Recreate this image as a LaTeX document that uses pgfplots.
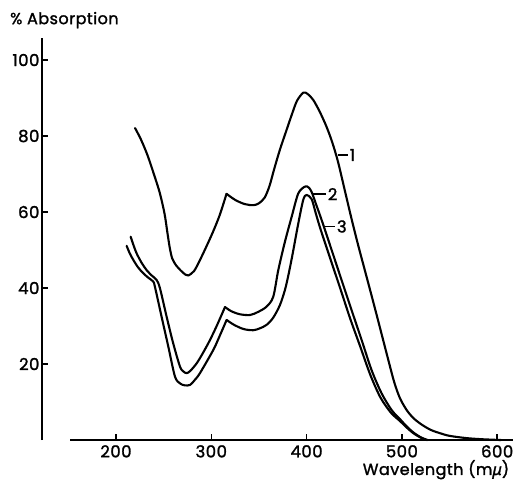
\documentclass[border=0pt]{standalone}
\usepackage{pgfplots}
\pgfplotsset{compat=1.18}
\usepackage{fontspec}
\setmainfont{Poppins}[FakeBold=1.5, LetterSpace=3]
\newfontfamily\mufont{Noto Sans}[FakeBold=1.5]

% Curve 1
\pgfplotstableread{
lam  abs
220   82.1
226   79.2
233   75.0
240   69.8
246   65.0
251   59.5
254   54.5
256.5 50.5
259   47.8
263   46.0
268   44.6
273   43.5
276   43.3
282   44.5
288   47.3
295   51.0
302   54.9
309   59.3
316   64.8
}\curveOneA
\pgfplotstableread{
lam  abs
316   64.8
325   63.2
335   62.1
344   61.8
350   62.3
356   63.8
361   66.8
366   71.3
372   76.4
379   81.6
385   86.0
390   89.3
396.5 91.4
401   91.1
407   89.5
414   86.3
421   82.4
427   78.3
433   73.2
440   65.8
447   58.4
454   51.4
461   44.8
468   38.2
475   31.5
485   21.8
492   15.2
498   11.0
505   7.9
512   5.8
520   4.2
530   2.7
540   1.8
550   1.1
568   0.5
585   0.2
604   0.0
}\curveOneB

% Curve 2
\pgfplotstableread{
lam  abs
215.4 53.5
218.5 51.2
221.7 49.1
227   46.6
232.2 44.7
237.5 43.3
242.7 42.1
246.2 39.9
253.2 32.4
260.1 25.4
267.2 19.3
271   18.0
274.2 17.6
278   18.2
284.7 20.2
291   22.8
298.6 26.3
306   30.2
314.4 35.0
}\curveTwoA
\pgfplotstableread{
lam  abs
314.4 35.0
321   33.9
330   33.1
340.6 32.9
349   33.7
358   35.1
365   37.7
370.3 44.7
377.3 52.2
384.4 58.8
391.3 64.9
398.3 66.7
402   66.5
405.3 65.3
410   62.0
415.8 57.9
426.3 50.0
436.7 42.1
447.2 34.2
457.8 26.3
468.2 18.4
478.7 12.3
489.2 7.9
498   5.5
505   3.6
512   2.0
520   0.7
527   0.0
}\curveTwoB

% Curve 3
\pgfplotstableread{
lam  abs
211.2 51.1
214.5 49.1
218.2 47.4
223   45.5
228.6 43.9
234   42.7
239.1 41.7
240.9 40.3
247.9 32.4
254.9 24.6
261.9 16.7
267.2 14.9
272   14.4
277.7 14.5
283   15.9
288.1 17.6
302.1 23.7
309   27.5
316.1 31.6
}\curveThreeA
\pgfplotstableread{
lam  abs
316.1 31.6
324   30.3
334   29.2
344   28.9
351   29.4
358   30.3
365   32.2
372   35.5
377.3 39.5
381   43.5
385   48.5
391.3 57.0
396.5 63.2
400   64.5
405.3 63.4
409.5 59.8
414.5 55.6
424.8 47.8
435.2 40.0
445.7 32.0
456.3 24.6
466.8 17.2
477.5 11.2
488.5 7.2
498   5.0
505   3.3
512   1.8
520   0.6
526   0.0
}\curveThreeB

\begin{document}
\begin{tikzpicture}
\begin{axis}[
  x=0.953pt, y=3.8pt,
  xmin=122, xmax=617, ymin=0, ymax=105.8,
  clip=false,
  axis x line=bottom, axis y line=left,
  axis line style={draw=none,-},
  xtick={200,300,400,500,600},
  ytick={20,40,60,80,100},
  tick align=inside,
  major tick length=6pt,
  tick style={line width=1.5pt, black},
  /pgf/number format/assume math mode=true,
  tick label style={font=\fontsize{16.5}{19}\selectfont},
  yticklabel style={inner sep=1pt, xshift=-1pt},
  xticklabel style={inner sep=1pt, yshift=-4pt},
  spectrum/.style={black, line width=2.1pt, smooth, no markers, line join=round, line cap=round},
]
\addplot[spectrum] table[x=lam, y=abs] {\curveOneA};
\addplot[spectrum] table[x=lam, y=abs] {\curveOneB};
\addplot[spectrum] table[x=lam, y=abs] {\curveTwoA};
\addplot[spectrum] table[x=lam, y=abs] {\curveTwoB};
\addplot[spectrum] table[x=lam, y=abs] {\curveThreeA};
\addplot[spectrum] table[x=lam, y=abs] {\curveThreeB};

% axis lines
\draw[line width=2pt] (axis cs:122,0) -- (axis cs:122,105.8);
\draw[line width=2pt] (axis cs:152,0) -- (axis cs:617,0);

% curve labels
\draw[line width=1.5pt] (axis cs:432.5,75) -- (axis cs:443.5,75)
  node[anchor=west, inner sep=1pt, font=\fontsize{16.5}{19}\selectfont] {1};
\draw[line width=1.5pt] (axis cs:407,64.7) -- (axis cs:420.5,64.7)
  node[anchor=west, inner sep=1pt, font=\fontsize{16.5}{19}\selectfont] {2};
\draw[line width=1.5pt] (axis cs:418.5,56.2) -- (axis cs:430,56.2)
  node[anchor=west, inner sep=1pt, font=\fontsize{16.5}{19}\selectfont] {3};

% axis titles
\node[anchor=west, inner sep=0pt, font=\fontsize{16}{19}\selectfont]
  at (axis cs:88.8,110.5) {\% Absorption};
\node[inner sep=0pt, font=\fontsize{16}{19}\selectfont]
  at (axis cs:535.8,-7.8) {Wavelength (m{\mufont\itshape μ})};

\coordinate (tl) at (axis cs:78.3,115.8);
\coordinate (br) at (axis cs:618.7,-10.8);
\end{axis}
\pgfresetboundingbox
\path[use as bounding box] (tl) rectangle (br);
\end{tikzpicture}
\end{document}
